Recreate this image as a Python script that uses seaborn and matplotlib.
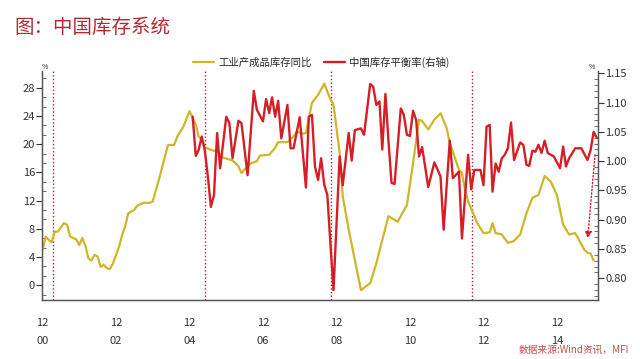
import pandas as pd
import matplotlib
matplotlib.use('Agg')
import matplotlib.pyplot as plt
import matplotlib.dates as mdates
from matplotlib.ticker import MultipleLocator, AutoMinorLocator
import seaborn as sns

# 工业产成品库存同比 (%, 左轴)
stock_dates = ['2000-12', '2001-01', '2001-02', '2001-03', '2001-04', '2001-05', '2001-07', '2001-08',
               '2001-09', '2001-11', '2001-12', '2002-01', '2002-02', '2002-03', '2002-04', '2002-05',
               '2002-06', '2002-07', '2002-08', '2002-09', '2002-10', '2002-11', '2003-01', '2003-02',
               '2003-03', '2003-04', '2003-06', '2003-07', '2003-09', '2003-11', '2003-12', '2004-02',
               '2004-04', '2004-05', '2004-07', '2004-08', '2004-10', '2004-12', '2005-01', '2005-02',
               '2005-03', '2005-04', '2005-05', '2005-07', '2005-09', '2005-11', '2006-02', '2006-04',
               '2006-05', '2006-06', '2006-08', '2006-10', '2006-11', '2007-02', '2007-04', '2007-05',
               '2007-08', '2007-10', '2007-11', '2008-01', '2008-02', '2008-04', '2008-06', '2008-08',
               '2008-10', '2008-11', '2009-01', '2009-02', '2009-04', '2009-06', '2009-08', '2009-11',
               '2010-01', '2010-03', '2010-05', '2010-08', '2010-11', '2011-01', '2011-03', '2011-04',
               '2011-06', '2011-08', '2011-10', '2011-12', '2012-01', '2012-04', '2012-05', '2012-06',
               '2012-07', '2012-09', '2012-10', '2012-12', '2013-02', '2013-03', '2013-04', '2013-06',
               '2013-08', '2013-10', '2013-12', '2014-02', '2014-04', '2014-06', '2014-08', '2014-10',
               '2014-12', '2015-02', '2015-04', '2015-06', '2015-09', '2015-10', '2015-11', '2015-12']
stock_yoy = [5.0, 6.9, 6.4, 6.1, 7.6, 7.6, 8.8, 8.6,
             6.9, 6.5, 5.7, 6.7, 5.5, 3.8, 3.5, 4.3,
             4.1, 2.6, 2.9, 2.4, 2.3, 3.1, 5.5, 7.2,
             8.3, 10.2, 10.7, 11.3, 11.7, 11.7, 11.9, 15.0,
             18.3, 19.9, 19.9, 21.1, 22.5, 24.7, 23.7, 22.8,
             21.1, 20.6, 19.6, 19.2, 19.0, 18.1, 17.7, 16.9,
             15.9, 16.4, 17.3, 17.6, 18.4, 18.5, 19.5, 20.3,
             20.3, 21.1, 21.8, 21.5, 21.6, 25.9, 27.0, 28.6,
             26.4, 25.6, 18.8, 12.6, 7.9, 3.6, -0.7, 0.3,
             3.1, 6.4, 9.8, 9.0, 11.4, 17.3, 23.5, 23.3,
             22.1, 23.5, 24.4, 22.3, 20.2, 16.4, 15.9, 13.5,
             11.9, 9.8, 8.8, 7.4, 7.5, 8.8, 7.4, 7.2,
             6.0, 6.3, 7.2, 10.2, 12.4, 12.8, 15.5, 14.7,
             12.8, 8.6, 7.2, 7.4, 5.0, 4.6, 4.5, 3.5]

# 中国库存平衡率 (右轴)
balance_dates = ['2005-01', '2005-02', '2005-03', '2005-04', '2005-05', '2005-06', '2005-07', '2005-08',
                 '2005-09', '2005-10', '2005-12', '2006-01', '2006-02', '2006-04', '2006-05', '2006-07',
                 '2006-09', '2006-10', '2006-12', '2007-01', '2007-02', '2007-03', '2007-04', '2007-05',
                 '2007-06', '2007-08', '2007-09', '2007-10', '2007-12', '2008-02', '2008-03', '2008-04',
                 '2008-05', '2008-06', '2008-07', '2008-08', '2008-09', '2008-10', '2008-11', '2009-01',
                 '2009-02', '2009-04', '2009-05', '2009-06', '2009-08', '2009-09', '2009-11', '2009-12',
                 '2010-01', '2010-02', '2010-03', '2010-04', '2010-05', '2010-06', '2010-07', '2010-09',
                 '2010-10', '2010-11', '2010-12', '2011-01', '2011-02', '2011-03', '2011-04', '2011-06',
                 '2011-08', '2011-10', '2011-11', '2012-01', '2012-02', '2012-04', '2012-05', '2012-07',
                 '2012-08', '2012-09', '2012-11', '2012-12', '2013-01', '2013-02', '2013-03', '2013-04',
                 '2013-05', '2013-06', '2013-07', '2013-08', '2013-09', '2013-10', '2013-12', '2014-01',
                 '2014-02', '2014-03', '2014-04', '2014-05', '2014-06', '2014-07', '2014-08', '2014-09',
                 '2014-11', '2015-01', '2015-02', '2015-03', '2015-04', '2015-06', '2015-08', '2015-10',
                 '2015-11', '2015-12', '2016-01']
balance_rate = [1.076, 1.009, 1.019, 1.042, 1.019, 0.974, 0.922, 0.942,
                1.048, 0.988, 1.076, 1.065, 1.005, 1.069, 1.065, 0.976,
                1.120, 1.088, 1.068, 1.106, 1.082, 1.109, 1.076, 1.103,
                1.039, 1.096, 1.022, 1.022, 1.075, 0.955, 1.076, 1.079,
                0.991, 0.968, 1.005, 0.960, 0.942, 0.860, 0.780, 1.008,
                0.959, 1.048, 1.001, 1.053, 1.056, 1.045, 1.132, 1.127,
                1.096, 1.102, 1.020, 1.115, 1.036, 0.963, 0.961, 1.090,
                1.079, 1.045, 1.043, 1.086, 1.070, 1.008, 1.024, 0.956,
                0.998, 0.974, 0.883, 1.035, 0.971, 0.982, 0.868, 1.011,
                0.952, 0.985, 0.985, 0.959, 1.059, 1.062, 0.948, 0.996,
                0.982, 1.005, 1.011, 1.022, 1.066, 1.002, 1.032, 1.028,
                0.994, 0.992, 1.018, 1.016, 1.028, 1.014, 1.035, 1.014,
                1.008, 0.988, 1.025, 0.991, 1.005, 1.022, 1.022, 1.002,
                1.019, 1.050, 1.040]

cycle_marks = ['2001-03-12', '2005-05-01', '2008-10-10', '2012-08-10']
x_ticks = ['2000-12', '2002-12', '2004-12', '2006-12', '2008-12', '2010-12', '2012-12', '2014-12']
x_labels = ['12\n00', '12\n02', '12\n04', '12\n06', '12\n08', '12\n10', '12\n12', '12\n14']

yellow = '#cfb52b'
red = '#d41f26'
dark_red = '#a8232b'

sns.set_style('white')
plt.rcParams['font.family'] = ['Noto Sans CJK SC', 'DejaVu Sans']
plt.rcParams['axes.unicode_minus'] = False

df1 = pd.DataFrame({'date': pd.to_datetime(stock_dates), 'value': stock_yoy})
df2 = pd.DataFrame({'date': pd.to_datetime(balance_dates), 'value': balance_rate})

fig = plt.figure(figsize=(6.4, 3.59), dpi=100)
ax = fig.add_axes([0.0656, 0.1643, 0.869, 0.638])
ax2 = ax.twinx()

sns.lineplot(data=df1, x='date', y='value', ax=ax, color=yellow, linewidth=1.6,
             label='工业产成品库存同比', legend=False)
sns.lineplot(data=df2, x='date', y='value', ax=ax2, color=red, linewidth=1.7,
             label='中国库存平衡率(右轴)', legend=False)

for d in cycle_marks:
    ax.axvline(pd.Timestamp(d), color=dark_red, linestyle=(0, (1, 1.6)), linewidth=1.0, zorder=0)

ax.set_xlim(pd.Timestamp('2000-11-25'), pd.Timestamp('2016-01-15'))
ax.set_ylim(-2.1, 30.4)
ax2.set_ylim(0.763, 1.154)

ax.set_xticks(pd.to_datetime(x_ticks))
ax.set_xticklabels(x_labels, fontsize=8, linespacing=2.0)
ax.xaxis.set_minor_locator(mdates.MonthLocator(bymonth=12, interval=1))
ax.yaxis.set_major_locator(MultipleLocator(4))
ax.yaxis.set_minor_locator(AutoMinorLocator(3))
ax2.yaxis.set_major_locator(MultipleLocator(0.05))
ax2.yaxis.set_minor_locator(AutoMinorLocator(5))
ax2.yaxis.set_major_formatter(matplotlib.ticker.FormatStrFormatter('%.2f'))

ax.tick_params(axis='y', which='major', direction='out', length=4, width=0.8, labelsize=8,
               colors='#333333', pad=1)
ax.tick_params(axis='y', which='minor', direction='in', length=3, width=0.6, colors='#555555')
ax.tick_params(axis='x', which='major', direction='out', length=5, width=0.8, labelsize=8,
               colors='#333333', pad=8)
ax.tick_params(axis='x', which='minor', direction='out', length=4, width=0.8, colors='#555555')
ax2.tick_params(axis='y', which='major', direction='out', length=4, width=0.8, labelsize=8,
                colors='#333333', pad=1)
ax2.tick_params(axis='y', which='minor', direction='in', length=3, width=0.6, colors='#555555')

for a in (ax, ax2):
    a.set_xlabel('')
    a.set_ylabel('')
    a.spines['top'].set_visible(False)
    for s in ('left', 'right', 'bottom'):
        a.spines[s].set_color('#555555')
        a.spines[s].set_linewidth(0.9)

ax.text(0.0, 1.0, '%', transform=ax.transAxes, fontsize=5, color='#333333', ha='left', va='bottom')
ax2.text(0.995, 1.0, '%', transform=ax2.transAxes, fontsize=5, color='#333333', ha='right', va='bottom')

# 虚线箭头
ax2.annotate('', xy=(pd.Timestamp('2015-10-03'), 0.868), xytext=(pd.Timestamp('2015-12-15'), 1.011),
             arrowprops=dict(arrowstyle='-|>', linestyle=(0, (1, 1.5)), color=red, lw=1.0,
                             mutation_scale=10, shrinkA=0, shrinkB=0))

h1, l1 = ax.get_legend_handles_labels()
h2, l2 = ax2.get_legend_handles_labels()
fig.legend(h1 + h2, l1 + l2, loc='center', bbox_to_anchor=(0.502, 0.827), ncol=2, frameon=False,
           fontsize=7.5, handlelength=2.0, columnspacing=1.2, handletextpad=0.4)

fig.text(0.022, 0.925, '图：中国库存系统', fontsize=14, color='#b22a30', ha='left', va='center',
         fontweight='medium')
fig.text(0.983, 0.025, '数据来源:Wind资讯，MFI', fontsize=7, color='#c0504d', ha='right', va='center',
         style='italic')

fig.savefig('out.png', dpi=100)
